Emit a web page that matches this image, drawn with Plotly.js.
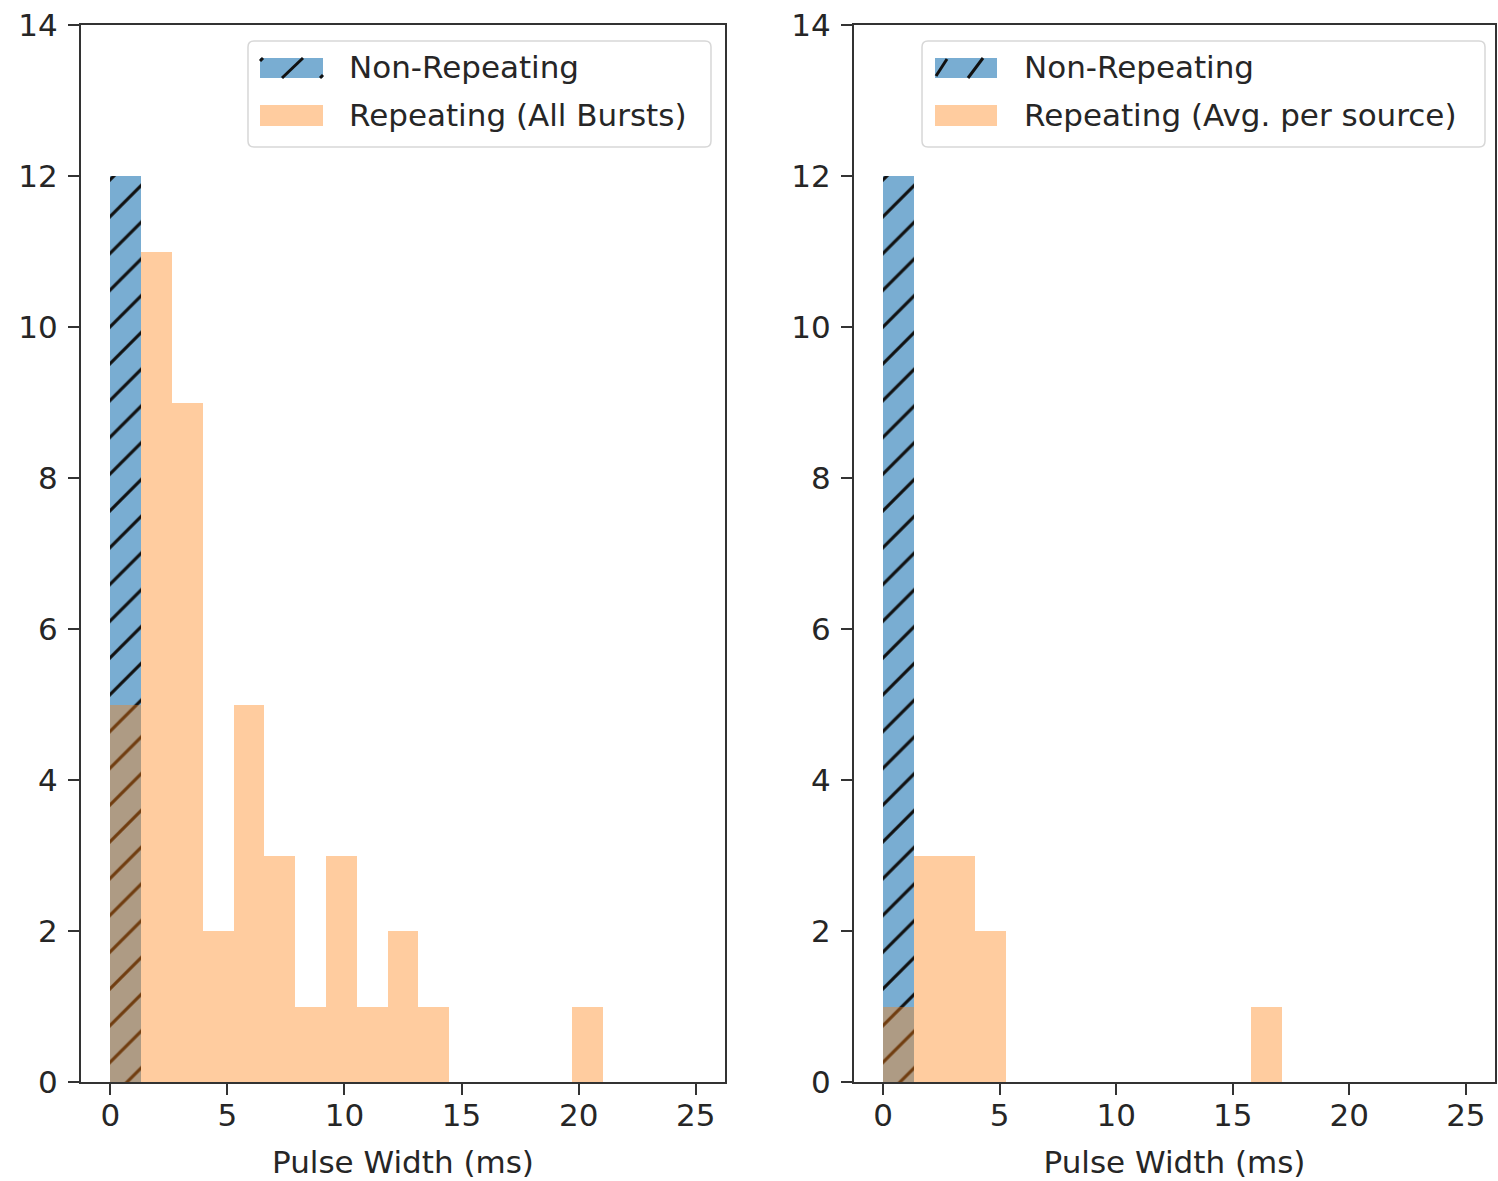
<!DOCTYPE html>
<html>
<head>
<meta charset="utf-8">
<script src="https://cdn.plot.ly/plotly-3.0.1.min.js"></script>
<style>html,body{margin:0;padding:0;background:#fff;}#chart{width:1498px;height:1181px;}</style>
</head>
<body>
<div id="chart"></div>
<script>
// ---- data ----
const binCount = 19;            // bins span 0..25 ms
const binMax = 25;
const nonRepeatingLeft  = [12,0,0,0,0,0,0,0,0,0,0,0,0,0,0,0,0,0,0];
const repeatingAll      = [5,11,9,2,5,3,1,3,1,2,1,0,0,0,0,1,0,0,0];
const nonRepeatingRight = [12,0,0,0,0,0,0,0,0,0,0,0,0,0,0,0,0,0,0];
const repeatingAvg      = [1,3,3,2,0,0,0,0,0,0,0,0,1,0,0,0,0,0,0];
const legendLeft  = ['Non-Repeating', 'Repeating (All Bursts)'];
const legendRight = ['Non-Repeating', 'Repeating (Avg. per source)'];
const xTitle = 'Pulse Width (ms)';
const xTicks = [0,5,10,15,20,25];
const yTicks = [0,2,4,6,8,10,12,14];

// ---- layout helpers ----
const W = 1498, H = 1181;
const M = {l:81, r:3, t:25, b:99};
const PW = W - M.l - M.r, PH = H - M.t - M.b;
const px = x => (x - M.l) / PW;
const py = y => (H - M.b - y) / PH;

const bw = binMax / binCount;
const centers = nonRepeatingLeft.map((_, i) => (i + 0.5) * bw);

const font = {family: 'DejaVu Sans, sans-serif', size: 31, color: '#262626'};
const blue = 'rgba(31,119,180,0.6)';
const orange = 'rgba(255,127,14,0.4)';
const hatch = {shape: '/', fgcolor: '#111', bgcolor: blue, fillmode: 'replace', size: 26, solidity: 0.12, fgopacity: 1};

function barTrace(y, xa, ya, color, pattern, name) {
  const m = {color: color, line: {width: 0}};
  if (pattern) m.pattern = pattern;
  return {type: 'bar', x: centers, y: y, width: bw, xaxis: xa, yaxis: ya, marker: m, name: name, showlegend: false, hoverinfo: 'x+y'};
}

const traces = [
  barTrace(nonRepeatingLeft, 'x', 'y', blue, hatch, legendLeft[0]),
  barTrace(repeatingAll, 'x', 'y', orange, null, legendLeft[1]),
  barTrace(nonRepeatingRight, 'x2', 'y2', blue, hatch, legendRight[0]),
  barTrace(repeatingAvg, 'x2', 'y2', orange, null, legendRight[1])
];

function xaxis(domain, anchor) {
  return {domain: domain, anchor: anchor, range: [-1.25, 26.25], tickvals: xTicks, ticktext: xTicks.map(String),
    ticks: 'outside', ticklen: 11, tickwidth: 2, tickcolor: '#333', showline: true, linecolor: '#333', linewidth: 2,
    mirror: true, showgrid: false, zeroline: false, tickfont: font, fixedrange: true, ticklabelstandoff: -6,
    title: {text: xTitle, font: font, standoff: 19}, automargin: false};
}
function yaxis(anchor) {
  return {domain: [0, 1], anchor: anchor, range: [0, 14], tickvals: yTicks, ticktext: yTicks.map(String),
    ticks: 'outside', ticklen: 11, tickwidth: 2, tickcolor: '#333', showline: true, linecolor: '#333', linewidth: 2,
    mirror: true, showgrid: false, zeroline: false, tickfont: font, fixedrange: true, ticklabelstandoff: 4, automargin: false};
}

function roundRect(x0, y0, x1, y1, r) {
  const X = v => px(v).toFixed(5), Y = v => py(v).toFixed(5);
  return 'M' + X(x0 + r) + ',' + Y(y0) + ' L' + X(x1 - r) + ',' + Y(y0) +
    ' Q' + X(x1) + ',' + Y(y0) + ' ' + X(x1) + ',' + Y(y0 + r) +
    ' L' + X(x1) + ',' + Y(y1 - r) + ' Q' + X(x1) + ',' + Y(y1) + ' ' + X(x1 - r) + ',' + Y(y1) +
    ' L' + X(x0 + r) + ',' + Y(y1) + ' Q' + X(x0) + ',' + Y(y1) + ' ' + X(x0) + ',' + Y(y1 - r) +
    ' L' + X(x0) + ',' + Y(y0 + r) + ' Q' + X(x0) + ',' + Y(y0) + ' ' + X(x0 + r) + ',' + Y(y0) + ' Z';
}

const shapes = [], annotations = [];
function legend(box, sw, textX, labels, hatchLines) {
  shapes.push({type: 'path', xref: 'paper', yref: 'paper', path: roundRect(box[0], box[1], box[2], box[3], 6),
    fillcolor: 'rgba(255,255,255,0.8)', line: {color: 'rgb(215,215,215)', width: 1.5}, layer: 'above'});
  const rows = [[58, 78], [105, 126]];
  const cols = [blue, orange];
  rows.forEach((r, i) => {
    shapes.push({type: 'rect', xref: 'paper', yref: 'paper', x0: px(sw[0]), x1: px(sw[1]), y0: py(r[1]), y1: py(r[0]),
      fillcolor: cols[i], line: {width: 0}, layer: 'above'});
    annotations.push({xref: 'paper', yref: 'paper', x: px(textX), y: py((r[0] + r[1]) / 2 - 1), xanchor: 'left', yanchor: 'middle',
      text: labels[i], showarrow: false, font: font});
  });
  hatchLines.forEach(l => {
    shapes.push({type: 'line', xref: 'paper', yref: 'paper', x0: px(l[0]), y0: py(l[1]), x1: px(l[2]), y1: py(l[3]),
      line: {color: '#111', width: 3}, layer: 'above'});
  });
}
legend([248, 41, 711, 147], [260, 323], 347, legendLeft, [[282, 78, 303, 58], [260, 61, 263, 58], [320, 78, 323, 75]]);
legend([922, 41, 1485, 147], [935, 997], 1022, legendRight, [[936, 76, 947, 59], [968, 78, 983, 58]]);

const layout = {
  width: W, height: H, margin: M, paper_bgcolor: '#fff', plot_bgcolor: '#fff',
  barmode: 'overlay', bargap: 0, showlegend: false, font: font,
  xaxis: xaxis([0, px(725)], 'y'), yaxis: yaxis('x'),
  xaxis2: xaxis([px(854), 1], 'y2'), yaxis2: yaxis('x2'),
  shapes: shapes, annotations: annotations
};
Plotly.newPlot('chart', traces, layout, {displayModeBar: false, staticPlot: true});
</script>
</body>
</html>
